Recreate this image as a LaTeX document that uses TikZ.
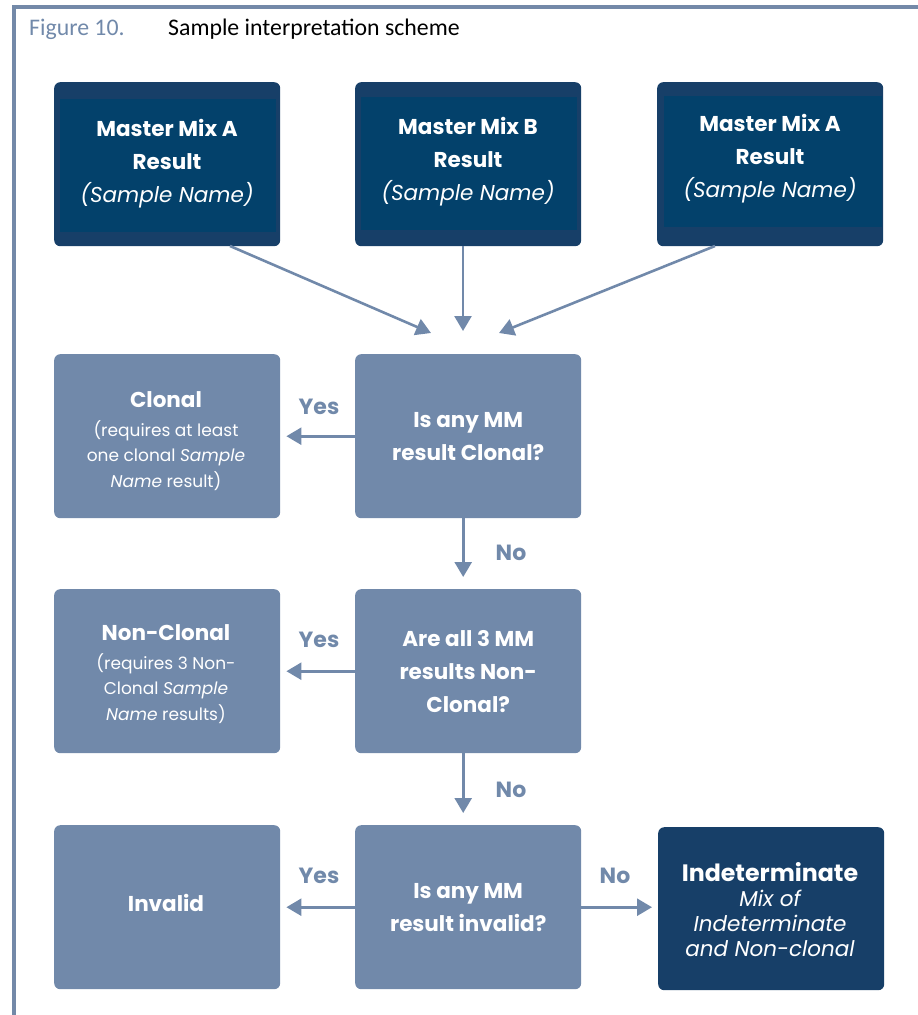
\documentclass[tikz,border=0pt]{standalone}
\usepackage{fontspec}
\setmainfont{Poppins}
\newfontfamily\capfont{Carlito}
\usetikzlibrary{arrows.meta}
\definecolor{slate}{HTML}{7189AA}
\definecolor{navy}{HTML}{173F68}
\definecolor{navyin}{HTML}{03416B}
\definecolor{framec}{HTML}{7389A8}
\tikzset{
  box/.style={rounded corners=6pt, minimum width=226pt, minimum height=164pt, inner sep=0pt, text=white, align=center, anchor=north west},
  lightbox/.style={box, fill=slate},
  darkbox/.style={box, fill=navy},
  conn/.style={draw=slate, line width=2.6pt, -{Triangle[length=15pt,width=17pt]}},
  lbl/.style={text=slate, font=\fontsize{22}{24}\selectfont\bfseries, inner sep=0pt},
  big/.style={font=\fontsize{21.5}{33}\selectfont},
  small/.style={font=\fontsize{17}{25.5}\selectfont},
  boxtext/.style={text=white, align=center, inner sep=0pt},
}
\begin{document}
\begin{tikzpicture}[x=1pt,y=-1pt]
\useasboundingbox (0,0) rectangle (918,1015);
% frame
\fill[framec] (12,5) rectangle (918,9);
\fill[framec] (12,5) rectangle (16,1015);
\node[anchor=base west, inner sep=0pt, text=slate, font=\capfont\fontsize{23.8}{26}\selectfont] (figlbl) at (29,35) {Figure 10.};
\node[anchor=base west, inner sep=0pt, font=\capfont\fontsize{23.8}{26}\selectfont] (figttl) at (168,35) {Sample interpretation scheme};
% top row
\node[darkbox] (mmA) at (54,82) {};
\node[darkbox] (mmB) at (355,82) {};
\node[darkbox] (mmC) at (657,82) {};
\fill[navyin] (60,99) rectangle (276,232);
\fill[navyin] (361,97) rectangle (577,230);
\fill[navyin] (664,96) rectangle (882,227);
\node[big, boxtext] (tA) at (167,164) {\bfseries Master Mix A\\ \bfseries Result\\ \itshape (Sample Name)};
\node[big, boxtext] (tB) at (468,162) {\bfseries Master Mix B\\ \bfseries Result\\ \itshape (Sample Name)};
\node[big, boxtext] (tC) at (770,159) {\bfseries Master Mix A\\ \bfseries Result\\ \itshape (Sample Name)};
% targets
\coordinate (srcA) at (230,246);
\coordinate (srcB) at (463,246);
\coordinate (srcC) at (715,246);
\coordinate (tgA) at (431,333);
\coordinate (tgB) at (463,331);
\coordinate (tgC) at (499,333);
\draw[conn] (srcA) -- (tgA);
\draw[conn] (srcB) -- (tgB);
\draw[conn] (srcC) -- (tgC);
% row 2
\node[lightbox] (clonal) at (54,354) {};
\node[lightbox, big] (q1) at (355,354) {\bfseries Is any MM\\ \bfseries result Clonal?};
\node[boxtext, small] (clonaltxt) at (166,441) {\fontsize{21.5}{24}\selectfont\bfseries Clonal\\[3pt]
  (requires at least\\ one clonal \textit{Sample}\\ \textit{Name} result)};
\node[lbl] (yes1) at (319,407) {Yes};
\draw[conn, shorten >=6pt] (q1.west) -- (clonal.east);
\node[lbl] (no1) at (511,553) {No};
% row 3
\node[lightbox] (nonclonal) at (54,589) {};
\node[lightbox, big] (q2) at (355,589) {\bfseries Are all 3 MM\\ \bfseries results Non-\\ \bfseries Clonal?};
\node[boxtext, small] (nctxt) at (166,674) {\fontsize{21.5}{24}\selectfont\bfseries Non-Clonal\\[3pt]
  (requires 3 Non-\\ Clonal \textit{Sample}\\ \textit{Name} results)};
\node[lbl] (yes2) at (319,640) {Yes};
\draw[conn, shorten >=6pt] (q2.west) -- (nonclonal.east);
\draw[conn, shorten >=12pt] ([xshift=-5pt]q1.south) -- ([xshift=-5pt]q2.north);
\node[lbl] (no2) at (511,790) {No};
% row 4
\node[lightbox] (invalid) at (54,825) {};
\node[boxtext, big] (invtxt) at (166,903) {\bfseries Invalid};
\node[lightbox, big] (q3) at (355,825) {\bfseries Is any MM\\ \bfseries result invalid?};
\node[darkbox, minimum height=163pt] (indet) at (658,827) {};
\node[boxtext, font=\fontsize{21.5}{25}\selectfont\itshape] (indettxt) at (770,910) {\fontsize{23.7}{26}\selectfont\bfseries\upshape Indeterminate\\
  Mix of\\ Indeterminate\\ and Non-clonal};
\node[lbl] (yes3) at (319,876) {Yes};
\node[lbl] (no3) at (615,876) {No};
\draw[conn, shorten >=12pt] ([xshift=-5pt]q2.south) -- ([xshift=-5pt]q3.north);
\draw[conn, shorten >=6pt] (q3.west) -- (invalid.east);
\draw[conn, shorten >=6pt] (q3.east) -- (indet.west |- q3.east);
\end{tikzpicture}
\end{document}
